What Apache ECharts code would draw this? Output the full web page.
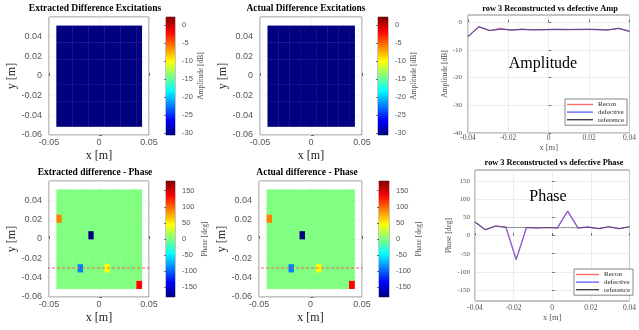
<!DOCTYPE html>
<html>
<head>
<meta charset="utf-8">
<script src="https://cdn.jsdelivr.net/npm/echarts@6/dist/echarts.min.js"></script>
<style>
  html, body { margin: 0; padding: 0; background: #fff; }
  #chart { width: 639px; height: 330px; }
</style>
</head>
<body>
<div id="chart"></div>
<script>
// Element centres of the 16 x 12 array [m]
const colX = [-0.04, -0.03467, -0.02933, -0.024, -0.01867, -0.01333, -0.008, -0.00267,
              0.00267, 0.008, 0.01333, 0.01867, 0.024, 0.02933, 0.03467, 0.04];
const rowY = [-0.047, -0.0385, -0.0299, -0.0214, -0.0128, -0.0043,
              0.0043, 0.0128, 0.0214, 0.0299, 0.0385, 0.047];

// Amplitude difference maps [dB], rows listed bottom to top
const ampDiffExtracted = [
  [-30.5,-30.5,-30.5,-30.5,-30.5,-30.5,-30.5,-30.5,-30.5,-30.5,-30.5,-30.5,-30.5,-30.5,-30.5,-30.5],
  [-30.5,-30.5,-30.5,-30.5,-30.5,-30.5,-30.5,-30.5,-30.5,-30.5,-30.5,-30.5,-30.5,-30.5,-30.5,-30.5],
  [-30.5,-30.5,-30.5,-30.5,-30.5,-30.5,-30.5,-30.5,-30.5,-30.5,-30.5,-30.5,-30.5,-30.5,-30.5,-30.5],
  [-30.5,-30.5,-30.5,-30.5,-30.5,-30.5,-30.5,-30.5,-30.5,-30.5,-30.5,-30.5,-30.5,-30.5,-30.5,-30.5],
  [-30.5,-30.5,-30.5,-30.5,-30.5,-30.5,-30.5,-30.5,-30.5,-30.5,-30.5,-30.5,-30.5,-30.5,-30.5,-30.5],
  [-30.5,-30.5,-30.5,-30.5,-30.5,-30.5,-30.5,-30.5,-30.5,-30.5,-30.5,-30.5,-30.5,-30.5,-30.5,-30.5],
  [-30.5,-30.5,-30.5,-30.5,-30.5,-30.5,-30.5,-30.5,-30.5,-30.5,-30.5,-30.5,-30.5,-30.5,-30.5,-30.5],
  [-30.5,-30.5,-30.5,-30.5,-30.5,-30.5,-30.5,-30.5,-30.5,-30.5,-30.5,-30.5,-30.5,-30.5,-30.5,-30.5],
  [-30.5,-30.5,-30.5,-30.5,-30.5,-30.5,-30.5,-30.5,-30.5,-30.5,-30.5,-30.5,-30.5,-30.5,-30.5,-30.5],
  [-30.5,-30.5,-30.5,-30.5,-30.5,-30.5,-30.5,-30.5,-30.5,-30.5,-30.5,-30.5,-30.5,-30.5,-30.5,-30.5],
  [-30.5,-30.5,-30.5,-30.5,-30.5,-30.5,-30.5,-30.5,-30.5,-30.5,-30.5,-30.5,-30.5,-30.5,-30.5,-30.5],
  [-30.5,-30.5,-30.5,-30.5,-30.5,-30.5,-30.5,-30.5,-30.5,-30.5,-30.5,-30.5,-30.5,-30.5,-30.5,-30.5]
];
const ampDiffActual = [
  [-30.5,-30.5,-30.5,-30.5,-30.5,-30.5,-30.5,-30.5,-30.5,-30.5,-30.5,-30.5,-30.5,-30.5,-30.5,-30.5],
  [-30.5,-30.5,-30.5,-30.5,-30.5,-30.5,-30.5,-30.5,-30.5,-30.5,-30.5,-30.5,-30.5,-30.5,-30.5,-30.5],
  [-30.5,-30.5,-30.5,-30.5,-30.5,-30.5,-30.5,-30.5,-30.5,-30.5,-30.5,-30.5,-30.5,-30.5,-30.5,-30.5],
  [-30.5,-30.5,-30.5,-30.5,-30.5,-30.5,-30.5,-30.5,-30.5,-30.5,-30.5,-30.5,-30.5,-30.5,-30.5,-30.5],
  [-30.5,-30.5,-30.5,-30.5,-30.5,-30.5,-30.5,-30.5,-30.5,-30.5,-30.5,-30.5,-30.5,-30.5,-30.5,-30.5],
  [-30.5,-30.5,-30.5,-30.5,-30.5,-30.5,-30.5,-30.5,-30.5,-30.5,-30.5,-30.5,-30.5,-30.5,-30.5,-30.5],
  [-30.5,-30.5,-30.5,-30.5,-30.5,-30.5,-30.5,-30.5,-30.5,-30.5,-30.5,-30.5,-30.5,-30.5,-30.5,-30.5],
  [-30.5,-30.5,-30.5,-30.5,-30.5,-30.5,-30.5,-30.5,-30.5,-30.5,-30.5,-30.5,-30.5,-30.5,-30.5,-30.5],
  [-30.5,-30.5,-30.5,-30.5,-30.5,-30.5,-30.5,-30.5,-30.5,-30.5,-30.5,-30.5,-30.5,-30.5,-30.5,-30.5],
  [-30.5,-30.5,-30.5,-30.5,-30.5,-30.5,-30.5,-30.5,-30.5,-30.5,-30.5,-30.5,-30.5,-30.5,-30.5,-30.5],
  [-30.5,-30.5,-30.5,-30.5,-30.5,-30.5,-30.5,-30.5,-30.5,-30.5,-30.5,-30.5,-30.5,-30.5,-30.5,-30.5],
  [-30.5,-30.5,-30.5,-30.5,-30.5,-30.5,-30.5,-30.5,-30.5,-30.5,-30.5,-30.5,-30.5,-30.5,-30.5,-30.5]
];

// Phase difference maps [deg], rows listed bottom to top
const phaseDiffExtracted = [
  [0,0,0,0,0,0,0,0,0,0,0,0,0,0,0,135],
  [0,0,0,0,0,0,0,0,0,0,0,0,0,0,0,0],
  [0,0,0,0,-90,0,0,0,0,45,0,0,0,0,0,0],
  [0,0,0,0,0,0,0,0,0,0,0,0,0,0,0,0],
  [0,0,0,0,0,0,0,0,0,0,0,0,0,0,0,0],
  [0,0,0,0,0,0,0,0,0,0,0,0,0,0,0,0],
  [0,0,0,0,0,0,-180,0,0,0,0,0,0,0,0,0],
  [0,0,0,0,0,0,0,0,0,0,0,0,0,0,0,0],
  [90,0,0,0,0,0,0,0,0,0,0,0,0,0,0,0],
  [0,0,0,0,0,0,0,0,0,0,0,0,0,0,0,0],
  [0,0,0,0,0,0,0,0,0,0,0,0,0,0,0,0],
  [0,0,0,0,0,0,0,0,0,0,0,0,0,0,0,0]
];
const phaseDiffActual = [
  [0,0,0,0,0,0,0,0,0,0,0,0,0,0,0,135],
  [0,0,0,0,0,0,0,0,0,0,0,0,0,0,0,0],
  [0,0,0,0,-90,0,0,0,0,45,0,0,0,0,0,0],
  [0,0,0,0,0,0,0,0,0,0,0,0,0,0,0,0],
  [0,0,0,0,0,0,0,0,0,0,0,0,0,0,0,0],
  [0,0,0,0,0,0,0,0,0,0,0,0,0,0,0,0],
  [0,0,0,0,0,0,-180,0,0,0,0,0,0,0,0,0],
  [0,0,0,0,0,0,0,0,0,0,0,0,0,0,0,0],
  [90,0,0,0,0,0,0,0,0,0,0,0,0,0,0,0],
  [0,0,0,0,0,0,0,0,0,0,0,0,0,0,0,0],
  [0,0,0,0,0,0,0,0,0,0,0,0,0,0,0,0],
  [0,0,0,0,0,0,0,0,0,0,0,0,0,0,0,0]
];

// Row 3 cut (y = -0.03 m)
const row3Y = -0.03;
const cutLineExtractedX = [-0.067, 0.057];
const cutLineActualX = [-0.0625, 0.053];

const ampRecon     = [-5.2, -1.7, -3.0, -2.2, -2.9, -2.5, -2.8, -2.7, -2.6, -2.6, -2.7, -2.6, -2.6, -2.8, -2.3, -3.3];
const ampDefective = [-5.2, -1.6, -3.0, -2.5, -2.8, -2.6, -2.7, -2.7, -2.6, -2.7, -2.6, -2.6, -2.7, -2.8, -2.2, -3.3];
const ampReference = [-5.2, -1.6, -3.0, -2.6, -2.8, -2.6, -2.7, -2.7, -2.6, -2.7, -2.6, -2.6, -2.7, -2.8, -2.2, -3.3];

const phaseRecon     = [37, 16, 26, 24, -66, 22, 21, 22, 21, 67, 21, 23, 19, 24, 19, 24];
const phaseDefective = [37, 16, 26, 22, -66, 22, 21, 22, 21, 67, 21, 23, 19, 24, 19, 24];
const phaseReference = [37, 16, 26, 22, 22, 22, 21, 22, 21, 22, 21, 23, 19, 24, 19, 24];

// Colour limits and colourbar ticks
const ampLimits = [-30.5, 2.3];
const ampBarTicks = [-30, -25, -20, -15, -10, -5, 0];
const phaseLimits = [-180, 180];
const phaseBarTicks = [-150, -100, -50, 0, 50, 100, 150];
const ampLineTicks = [-40, -30, -20, -10, 0];
const phaseLineTicks = [-150, -100, -50, 0, 50, 100, 150];

// MATLAB-style jet colormap
const jet = ['#000080', '#0000ff', '#0080ff', '#00ffff', '#80ff80', '#ffff00', '#ff8000', '#ff0000', '#800000'];

const pitchX = 0.08 / 15;
const pitchY = 0.00855;

const SANS = 'Liberation Sans';
const SERIF = 'Liberation Serif';
const BOX = '#6b6b6b';
const TICKTXT = '#555';

function toCells(grid) {
  const out = [];
  grid.forEach((row, r) => row.forEach((v, c) => out.push([colX[c], rowY[r], v])));
  return out;
}
function toXY(vals) { return vals.map((v, i) => [colX[i], v]); }

function cellItem(params, api) {
  const p = api.coord([api.value(0) - pitchX / 2, api.value(1) + pitchY / 2]);
  const s = api.size([pitchX, pitchY]);
  return {
    type: 'rect',
    shape: { x: p[0], y: p[1], width: s[0] + 0.4, height: s[1] + 0.4 },
    style: { fill: api.visual('color') }
  };
}
function barItem(params, api) {
  const p = api.coord([0, api.value(2)]);
  const s = api.size([1, api.value(2) - api.value(1)]);
  const stops = jet.map((c, i) => ({ offset: i / (jet.length - 1), color: c }));
  return {
    type: 'rect',
    shape: { x: p[0], y: p[1], width: s[0], height: s[1] },
    style: { fill: new echarts.graphic.LinearGradient(0, 1, 0, 0, stops) }
  };
}

const grids = [
  { left: 49,  top: 17,  width: 100, height: 118 },
  { left: 260, top: 17,  width: 102, height: 118 },
  { left: 49,  top: 181, width: 100, height: 116 },
  { left: 259, top: 181, width: 103, height: 116 },
  { left: 166, top: 17,  width: 9,   height: 118 },
  { left: 378, top: 17,  width: 10,  height: 118 },
  { left: 166, top: 181, width: 9,   height: 116 },
  { left: 379, top: 181, width: 10,  height: 116 },
  { left: 468, top: 15,  width: 166, height: 118 },
  { left: 475, top: 170, width: 160, height: 131 }
].map(g => Object.assign({ show: true, borderColor: BOX, borderWidth: 0.8, backgroundColor: '#fff', containLabel: false }, g));

function mapX(gi, gap) {
  return {
    type: 'value', gridIndex: gi, min: -0.05, max: 0.05, interval: 0.05,
    name: 'x [m]', nameLocation: 'middle', nameGap: gap,
    nameTextStyle: { fontFamily: SERIF, fontSize: 12, color: '#222' },
    axisLine: { show: false },
    axisTick: { inside: true, length: 3, lineStyle: { color: BOX } },
    axisLabel: { fontFamily: SANS, fontSize: 9, color: TICKTXT, margin: 3 },
    splitLine: { show: true, lineStyle: { color: '#ececec', width: 0.6 } }
  };
}
function mapY(gi) {
  return {
    type: 'value', gridIndex: gi, min: -0.06, max: 0.06, interval: 0.02,
    name: 'y [m]', nameLocation: 'middle', nameGap: 28, nameRotate: 90,
    nameTextStyle: { fontFamily: SERIF, fontSize: 12, color: '#222' },
    axisLine: { show: false },
    axisTick: { inside: true, length: 3, lineStyle: { color: BOX } },
    axisLabel: { fontFamily: SANS, fontSize: 9, color: TICKTXT, margin: 7, showMaxLabel: false },
    splitLine: { show: true, lineStyle: { color: '#ececec', width: 0.6 } }
  };
}
function barX(gi) {
  return { type: 'value', gridIndex: gi, min: 0, max: 1, show: false };
}
function barY(gi, lim, ticks, name, gap) {
  return {
    type: 'value', gridIndex: gi, min: lim[0], max: lim[1], position: 'right',
    name: name, nameLocation: 'middle', nameGap: gap, nameRotate: 90,
    nameTextStyle: { fontFamily: SERIF, fontSize: 7.5, color: '#555' },
    axisLine: { show: false },
    axisTick: { inside: true, length: 2, customValues: ticks, lineStyle: { color: BOX } },
    axisLabel: { fontFamily: SANS, fontSize: 7.5, color: TICKTXT, margin: 7, customValues: ticks },
    splitLine: { show: false }
  };
}
function lineX(gi, gap, margin) {
  return {
    type: 'value', gridIndex: gi, min: -0.04, max: 0.04, interval: 0.02,
    name: 'x [m]', nameLocation: 'middle', nameGap: gap,
    nameTextStyle: { fontFamily: SERIF, fontSize: 8.5, color: '#555' },
    axisLine: { show: false },
    axisTick: { inside: true, length: 2.5, lineStyle: { color: BOX } },
    axisLabel: { fontFamily: SERIF, fontSize: 7.5, color: TICKTXT, margin: margin },
    splitLine: { show: true, lineStyle: { color: '#e4e4e4', width: 0.7 } }
  };
}
function lineY(gi, lim, ticks, name, gap, margin) {
  return {
    type: 'value', gridIndex: gi, min: lim[0], max: lim[1],
    name: name, nameLocation: 'middle', nameGap: gap, nameRotate: 90,
    nameTextStyle: { fontFamily: SERIF, fontSize: 7.5, color: '#555' },
    axisLine: { show: false },
    axisTick: { inside: true, length: 2.5, customValues: ticks, lineStyle: { color: BOX } },
    axisLabel: { fontFamily: SERIF, fontSize: 7, color: TICKTXT, margin: margin, customValues: ticks },
    splitLine: { show: true, customValues: ticks, lineStyle: { color: '#e4e4e4', width: 0.7 } }
  };
}

const xAxes = [mapX(0, 15), mapX(1, 15), mapX(2, 15), mapX(3, 15),
               barX(4), barX(5), barX(6), barX(7),
               lineX(8, 8, 1), lineX(9, 11, 3)];
const yAxes = [mapY(0), mapY(1), mapY(2), mapY(3),
               barY(4, ampLimits, ampBarTicks, 'Amplitude [dB]', 20),
               barY(5, ampLimits, ampBarTicks, 'Amplitude [dB]', 20),
               barY(6, phaseLimits, phaseBarTicks, 'Phase [deg]', 22),
               barY(7, phaseLimits, phaseBarTicks, 'Phase [deg]', 24),
               lineY(8, [-40, 2.6], ampLineTicks, 'Amplitude [dB]', 16, 6),
               lineY(9, phaseLimits, phaseLineTicks, 'Phase [deg]', 19, 5)];

function heat(idx, grid) {
  return { type: 'custom', xAxisIndex: idx, yAxisIndex: idx, renderItem: cellItem,
           encode: { x: 0, y: 1 }, data: toCells(grid), silent: true, z: 2 };
}
function cut(idx, xs) {
  return { type: 'line', xAxisIndex: idx, yAxisIndex: idx, clip: false, symbol: 'none', silent: true, z: 5,
           data: xs.map(x => [x, row3Y]),
           lineStyle: { color: '#ff4d4d', width: 0.9, type: [3, 2] } };
}
function bar(idx, lim) {
  return { type: 'custom', xAxisIndex: idx, yAxisIndex: idx, renderItem: barItem,
           encode: { x: 0, y: [1, 2] }, data: [[0, lim[0], lim[1]]], silent: true };
}
function trace(idx, name, vals, color, width, opacity) {
  return { type: 'line', name: name, xAxisIndex: idx, yAxisIndex: idx, symbol: 'none',
           data: toXY(vals), lineStyle: { color: color, width: width, opacity: opacity },
           itemStyle: { color: color }, z: 3 };
}

const series = [
  heat(0, ampDiffExtracted), heat(1, ampDiffActual),
  heat(2, phaseDiffExtracted), heat(3, phaseDiffActual),
  cut(2, cutLineExtractedX), cut(3, cutLineActualX),
  bar(4, ampLimits), bar(5, ampLimits), bar(6, phaseLimits), bar(7, phaseLimits),
  trace(8, 'Recon', ampRecon, '#ff5a5a', 1.1, 0.9),
  trace(8, 'defective', ampDefective, '#5a5aff', 1.2, 0.75),
  trace(8, 'reference', ampReference, '#3a3a3a', 0.8, 0.7),
  trace(9, 'Recon', phaseRecon, '#ff5a5a', 1.1, 0.9),
  trace(9, 'defective', phaseDefective, '#5a5aff', 1.2, 0.75),
  trace(9, 'reference', phaseReference, '#3a3a3a', 0.8, 0.7)
];

// Legend entries drawn as short line samples
function legendAt(left, top, w) {
  const names = ['Recon', 'defective', 'reference'];
  const colors = ['#ff6a6a', '#6a6aff', '#444'];
  return {
    orient: 'vertical', left: left, top: top, padding: [2, 3, 2, 2], itemGap: 0.6,
    itemWidth: w, itemHeight: 1.4, selectedMode: false,
    data: names.map((n, i) => ({
      name: n, icon: 'rect',
      itemStyle: { color: colors[i], borderWidth: 0 }
    })),
    textStyle: { fontFamily: SERIF, fontSize: 7, color: '#222' },
    backgroundColor: '#fff', borderColor: '#555', borderWidth: 0.7, borderRadius: 0,
    z: 20
  };
}

function label(x, y, text, size, bold, color) {
  return { type: 'text', x: x, y: y, silent: true, z: 100,
           style: { text: text, fontFamily: SERIF, fontSize: size, fontWeight: bold ? 'bold' : 'normal',
                    fill: color || '#000', align: 'center', verticalAlign: 'middle' } };
}

const chart = echarts.init(document.getElementById('chart'), null, { renderer: 'canvas' });
chart.setOption({
  animation: false,
  backgroundColor: '#fff',
  grid: grids,
  xAxis: xAxes,
  yAxis: yAxes,
  visualMap: [
    { type: 'continuous', show: false, seriesIndex: [0, 1], dimension: 2,
      min: ampLimits[0], max: ampLimits[1], inRange: { color: jet } },
    { type: 'continuous', show: false, seriesIndex: [2, 3], dimension: 2,
      min: phaseLimits[0], max: phaseLimits[1], inRange: { color: jet } }
  ],
  legend: [legendAt(565, 99, 26), legendAt(574, 269, 23)],
  series: series,
  graphic: [
    label(95, 9, 'Extracted Difference Excitations', 9.5, true),
    label(306, 9, 'Actual Difference Excitations', 9.5, true),
    label(550, 9, 'row 3 Reconstructed vs defective Amp', 8.3, true),
    label(95, 173, 'Extracted difference - Phase', 9.5, true),
    label(307, 173, 'Actual difference - Phase', 9.5, true),
    label(554, 163, 'row 3 Reconstructed vs defective Phase', 8.3, true),
    label(543, 64, 'Amplitude', 16, false),
    label(548, 197, 'Phase', 16, false)
  ]
});
</script>
</body>
</html>
